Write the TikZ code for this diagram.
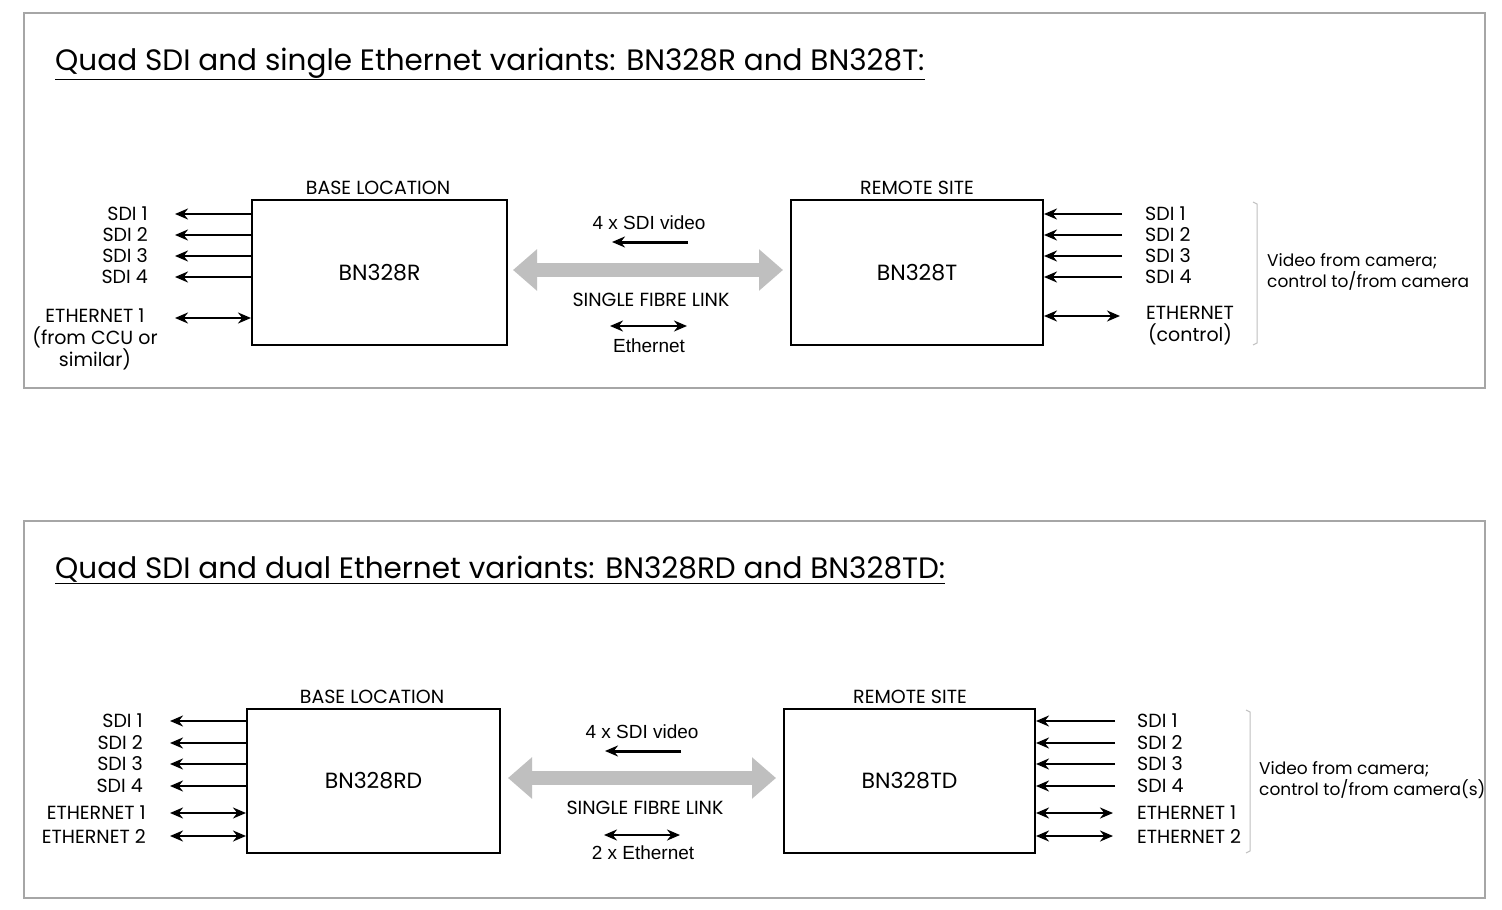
\documentclass[tikz,border=0pt]{standalone}
\usepackage{fontspec}
\setmainfont{Poppins}
\newfontfamily\arialf{Liberation Sans}
\usetikzlibrary{arrows.meta}
\begin{document}
\begin{tikzpicture}[x=1pt,y=-1pt,
  lab/.style={font=\fontsize{19}{22}\selectfont,inner sep=0pt},
  side/.style={font=\fontsize{17}{21}\selectfont,inner sep=0pt,anchor=west,align=left},
  ttl/.style={font=\fontsize{29.5}{34}\selectfont,inner sep=0pt,anchor=base west},
  unit/.style={draw,line width=2pt,inner sep=0pt},
  sig/.style={line width=2.2pt,-{Stealth[length=13pt,width=11pt]}},
  bid/.style={line width=2.2pt,{Stealth[length=13pt,width=11pt]}-{Stealth[length=13pt,width=11pt]}},
  frame/.style={draw=black!35,line width=1.2pt}]
\useasboundingbox (0,0) rectangle (1502,910);
\fill[white] (0,0) rectangle (1502,910);
% ---------- panel 1
\draw[frame] (24,13) rectangle (1485,388);
\node[ttl] (t1) at (55,70) {\underline{Quad SDI and single Ethernet variants: BN328R and BN328T:}};
\node[unit,minimum width=255pt,minimum height=145pt] (b1) at (379.5,272.5) {};
\node[lab] at (b1) {\fontsize{22}{24}\selectfont BN328R};
\node[lab] (b1t) at (378,188) {BASE LOCATION};
\node[unit,minimum width=252pt,minimum height=145pt] (b2) at (917,272.5) {};
\node[lab] at (b2) {\fontsize{22}{24}\selectfont BN328T};
\node[lab] (b2t) at (917,188) {REMOTE SITE};
\foreach \i/\y in {1/214,2/235,3/256,4/277}{
  \node[lab,anchor=east] (l\i) at (148,\y) {SDI \i};
  \coordinate (la\i) at (175,\y);
  \draw[sig] (b1.west |- la\i) -- (la\i);
  \node[lab,anchor=west] (r\i) at (1145,\y) {SDI \i};
  \coordinate (ra\i) at (1122,\y);
  \draw[sig] (ra\i) -- (b2.east |- ra\i);
}
\node[lab,align=center] (le) at (95,339) {ETHERNET 1\\(from CCU or\\similar)};
\coordinate (lea) at (175,318);
\draw[bid] (lea) -- (b1.west |- lea);
\node[lab,align=center] (re) at (1190,326) {ETHERNET\\(control)};
\coordinate (rea) at (1120,316);
\draw[bid] (b2.east |- rea) -- (rea);
\draw[black!25,line width=1pt] (1253,202) -- (1257,204) -- (1257,343) -- (1253,345);
\node[side] (rt) at (1267,272) {Video from camera;\\control to/from camera};
% fibre
\coordinate (f1a) at (513,270); \coordinate (f1b) at (783,270);
\draw[black!25,line width=14pt,{Triangle[length=24pt,width=40pt]}-{Triangle[length=24pt,width=40pt]}] (f1a) -- (f1b);
\node[font=\arialf\fontsize{19}{22}\selectfont,inner sep=0pt] (v1) at (649,223) {4 x SDI video};
\coordinate (v1a) at (688,242); \coordinate (v1b) at (612,242);
\draw[sig,line width=3pt] (v1a) -- (v1b);
\node[lab] (s1) at (651,300) {SINGLE FIBRE LINK};
\coordinate (e1a) at (610,326); \coordinate (e1b) at (687,326);
\draw[bid] (e1a) -- (e1b);
\node[font=\arialf\fontsize{19}{22}\selectfont,inner sep=0pt] (e1) at (649,346) {Ethernet};
% ---------- panel 2
\draw[frame] (24,521) rectangle (1485,898);
\node[ttl] (t2) at (55,578) {\underline{Quad SDI and dual Ethernet variants: BN328RD and BN328TD:}};
\node[unit,minimum width=253pt,minimum height=144pt] (c1) at (373.5,781) {};
\node[lab] at (c1) {\fontsize{22}{24}\selectfont BN328RD};
\node[lab] (c1t) at (372,697) {BASE LOCATION};
\node[unit,minimum width=251pt,minimum height=144pt] (c2) at (909.5,781) {};
\node[lab] at (c2) {\fontsize{22}{24}\selectfont BN328TD};
\node[lab] (c2t) at (910,697) {REMOTE SITE};
\foreach \i/\y in {1/721,2/743,3/764,4/786}{
  \node[lab,anchor=east] (m\i) at (143,\y) {SDI \i};
  \coordinate (ma\i) at (170,\y);
  \draw[sig] (c1.west |- ma\i) -- (ma\i);
  \node[lab,anchor=west] (n\i) at (1137,\y) {SDI \i};
  \coordinate (na\i) at (1115,\y);
  \draw[sig] (na\i) -- (c2.east |- na\i);
}
\foreach \i/\y in {1/813,2/836}{
  \node[lab,anchor=east] (me\i) at (146,\y) {ETHERNET \i};
  \coordinate (mea\i) at (170,\y);
  \draw[bid] (mea\i) -- (c1.west |- mea\i);
  \node[lab,anchor=west] (ne\i) at (1137,\y) {ETHERNET \i};
  \coordinate (nea\i) at (1113,\y);
  \draw[bid] (c2.east |- nea\i) -- (nea\i);
}
\draw[black!25,line width=1pt] (1246,710) -- (1250,712) -- (1250,851) -- (1246,853);
\node[side] (nt) at (1259,780) {Video from camera;\\control to/from camera(s)};
\coordinate (f2a) at (508,778); \coordinate (f2b) at (776,778);
\draw[black!25,line width=14pt,{Triangle[length=24pt,width=40pt]}-{Triangle[length=24pt,width=40pt]}] (f2a) -- (f2b);
\node[font=\arialf\fontsize{19}{22}\selectfont,inner sep=0pt] (v2) at (642,732) {4 x SDI video};
\coordinate (v2a) at (681,751); \coordinate (v2b) at (605,751);
\draw[sig,line width=3pt] (v2a) -- (v2b);
\node[lab] (s2) at (645,808) {SINGLE FIBRE LINK};
\coordinate (e2a) at (604,835); \coordinate (e2b) at (680,835);
\draw[bid] (e2a) -- (e2b);
\node[font=\arialf\fontsize{19}{22}\selectfont,inner sep=0pt] (e2) at (643,853) {2 x Ethernet};
\end{tikzpicture}
\end{document}
